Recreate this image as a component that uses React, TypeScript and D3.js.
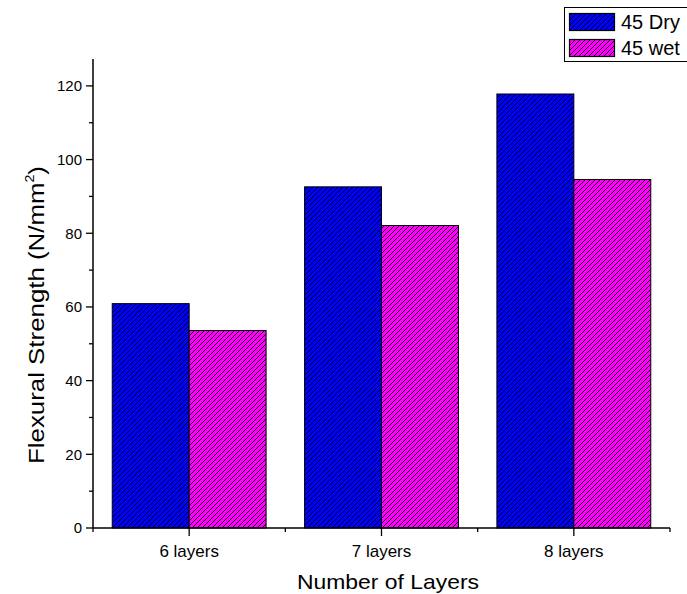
import React from "react";
import * as d3 from "d3";

const categories = ["6 layers", "7 layers", "8 layers"];
const seriesNames = ["45 Dry", "45 wet"];
const dryValues = [60.9, 92.6, 117.8];
const wetValues = [53.6, 82.1, 94.6];
const yTicks = [0, 20, 40, 60, 80, 100, 120];
const yMinorTicks = [10, 30, 50, 70, 90, 110];
const colors = ["#0000ff", "#ff00ff"];

const W = 687;
const H = 594;
const M = { left: 93, right: 17, top: 59, bottom: 66 };
const FONT = "Liberation Sans, Arial, sans-serif";
const P = 5;

export default function App() {
  const x0 = d3
    .scaleBand<string>()
    .domain(categories)
    .range([M.left, W - M.right])
    .paddingInner(0.2)
    .paddingOuter(0.1);
  const xOuter = d3.scaleBand<string>().domain(categories).range([M.left, W - M.right]);
  const x1 = d3.scaleBand<string>().domain(seriesNames).range([0, x0.bandwidth()]);
  const y = d3.scaleLinear().domain([0, 127.3]).range([H - M.bottom, M.top]);
  const y0 = y(0);
  const series = [dryValues, wetValues];
  const boundaries = [M.left, ...categories.map((c) => (xOuter(c) as number) + xOuter.bandwidth())];

  return (
    <svg width={W} height={H} style={{ position: "absolute", left: 0, top: 0, background: "#fff" }} fontFamily={FONT}>
      <defs>
        {colors.map((c, i) => (
          <pattern key={i} id={`hatch${i}`} patternUnits="userSpaceOnUse" width={P} height={P}>
            <rect width={P} height={P} fill={c} />
            <path
              d={`M-1,1 L1,-1 M0,${P} L${P},0 M${P - 1},${P + 1} L${P + 1},${P - 1}`}
              stroke="#000"
              strokeWidth={0.9}
              shapeRendering="crispEdges"
            />
          </pattern>
        ))}
      </defs>

      {/* bars */}
      {categories.map((c, ci) =>
        seriesNames.map((s, si) => {
          const bx = (x0(c) as number) + (x1(s) as number);
          const v = series[si][ci];
          return (
            <rect
              key={c + s}
              x={bx}
              y={y(v)}
              width={x1.bandwidth()}
              height={y0 - y(v)}
              fill={`url(#hatch${si})`}
              stroke="#000"
              strokeWidth={1}
            />
          );
        })
      )}

      {/* y axis */}
      <line x1={M.left} x2={M.left} y1={M.top} y2={y0} stroke="#000" strokeWidth={1.5} />
      {yTicks.map((t) => (
        <g key={t}>
          <line x1={M.left - 7} x2={M.left} y1={y(t)} y2={y(t)} stroke="#000" strokeWidth={1.3} />
          <text x={M.left - 11} y={y(t)} dy="0.36em" textAnchor="end" fontSize={15} fill="#000">
            {t}
          </text>
        </g>
      ))}
      {yMinorTicks.map((t) => (
        <line key={t} x1={M.left - 4} x2={M.left} y1={y(t)} y2={y(t)} stroke="#000" strokeWidth={1.3} />
      ))}

      {/* x axis */}
      <line x1={M.left} x2={W - M.right} y1={y0} y2={y0} stroke="#000" strokeWidth={1.5} />
      {boundaries.map((b, i) => (
        <line key={i} x1={b} x2={b} y1={y0} y2={y0 + 4} stroke="#000" strokeWidth={1.3} />
      ))}
      {categories.map((c) => {
        const cx = (xOuter(c) as number) + xOuter.bandwidth() / 2;
        return (
          <g key={c}>
            <line x1={cx} x2={cx} y1={y0} y2={y0 + 8} stroke="#000" strokeWidth={1.3} />
            <text x={cx} y={y0 + 29} textAnchor="middle" fontSize={17} fill="#000">
              {c}
            </text>
          </g>
        );
      })}

      {/* axis titles */}
      <text x={388} y={589} textAnchor="middle" fontSize={21} textLength={182} lengthAdjust="spacingAndGlyphs" fill="#000">
        Number of Layers
      </text>
      <text
        transform={`translate(44,315) rotate(-90)`}
        textAnchor="middle"
        fontSize={22}
        textLength={298}
        lengthAdjust="spacingAndGlyphs"
        fill="#000"
      >
        Flexural Strength (N/mm
        <tspan fontSize={12} dy={-10}>2</tspan>
        <tspan dy={10}>)</tspan>
      </text>

      {/* legend */}
      <rect x={564.5} y={7.5} width={140} height={54} fill="#fff" stroke="#000" strokeWidth={1} />
      {seriesNames.map((s, i) => (
        <g key={s}>
          <rect x={569.5} y={13.5 + i * 26} width={45} height={17} fill={`url(#hatch${i})`} stroke="#000" strokeWidth={1.2} />
          <text x={621} y={29 + i * 26} fontSize={20} fill="#000">
            {s}
          </text>
        </g>
      ))}
    </svg>
  );
}
